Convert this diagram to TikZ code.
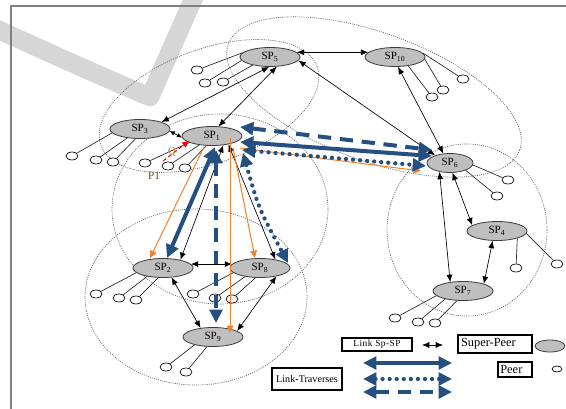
\documentclass[tikz,border=0pt]{standalone}
\usepackage{fontspec}
\setmainfont{Liberation Serif}
\usetikzlibrary{arrows.meta,calc,shapes.geometric}

\definecolor{spfill}{RGB}{191,191,191}
\definecolor{spline}{RGB}{60,60,60}
\definecolor{tblue}{RGB}{36,79,128}
\definecolor{torange}{RGB}{246,128,38}
\definecolor{wmark}{RGB}{214,214,214}
\definecolor{clgray}{RGB}{105,105,105}
\definecolor{framegray}{RGB}{128,128,128}
\definecolor{qcol}{RGB}{190,120,40}
\definecolor{pcol}{RGB}{110,80,40}

\begin{document}
\begin{tikzpicture}[x=0.75pt,y=-0.75pt,
  sp/.style={ellipse, draw=spline, line width=0.6pt, fill=spfill,
    minimum width=45pt, minimum height=14.25pt, inner sep=0pt,
    font=\fontsize{8.3}{9}\selectfont},
  peer/.style={ellipse, draw=black, line width=0.5pt, fill=white,
    minimum width=9pt, minimum height=6pt, inner sep=0pt},
  plink/.style={draw=black!85, line width=0.5pt},
  splink/.style={draw=black, line width=0.5pt,
    {Latex[length=5.5pt,width=4.5pt]}-{Latex[length=5.5pt,width=4.5pt]}},
  shortlink/.style={draw=black, line width=0.5pt,
    {Latex[length=3.8pt,width=3.6pt]}-{Latex[length=3.8pt,width=3.6pt]}},
  cluster/.style={draw=clgray, line width=0.5pt, dash pattern=on 0.8pt off 0.8pt},
  bhead/.style={{Triangle[length=10pt,width=9.5pt]}-{Triangle[length=10pt,width=9.5pt]}},
  trsolid/.style={draw=tblue, fill=none, line width=3pt, bhead},
  trdot/.style={draw=tblue, line width=3.2pt, line cap=round,
    dash pattern=on 0pt off 5.3pt, bhead},
  trdash/.style={draw=tblue, line width=3pt, dash pattern=on 10pt off 6.5pt, bhead},
  orarrow/.style={draw=torange, line width=0.75pt, -{Triangle[length=5.5pt,width=5pt]}},
  qarrow/.style={draw=red, line width=0.75pt, dash pattern=on 3pt off 2pt,
    -{Triangle[length=5pt,width=4.5pt]}},
  lbox/.style={draw=black, line width=0.8pt, rectangle, inner sep=1.5pt},
]
\useasboundingbox (0,0) rectangle (566,409);

% faint background stroke
\draw[wmark, line width=14pt, line join=round]
  (-12,25) .. controls (60,58) and (110,80) .. (150,97) -- (199,-14);

% page frame
\draw[framegray, line width=1.2pt] (11,412) -- (11,6) -- (570,6);

% clusters
\draw[cluster, rotate around={20:(209,106)}] (209,106) ellipse [x radius=115, y radius=57];
\draw[cluster, rotate around={-20:(374,97)}] (374,97) ellipse [x radius=155, y radius=64];
\draw[cluster] (220,209) ellipse [x radius=108, y radius=95];
\draw[cluster] (196,297) ellipse [x radius=111, y radius=88];
\draw[cluster] (467,230) ellipse [x radius=80, y radius=86];

% peers
\foreach \n/\x/\y in {p3a/72/156, p3b/96/160, p3c/113/162,
  p1a/145/163, p1b/168/166, p1c/185/168,
  p5a/197/70, p5b/205/83, p5c/223/82,
  p10a/463/79, p10b/443/90, p10c/432/97,
  p6a/508/180, p6b/497/196,
  p4a/516/268, p4b/557/264,
  p7a/395/318, p7b/418/322, p7c/435/323,
  p2a/96/294, p2b/119/298, p2c/136/300,
  p8a/193/294, p8b/215/298, p8c/232/299,
  p9a/166/367, p9b/186/372}
  \node[peer] (\n) at (\x,\y) {};

% super-peers
\node[sp] (sp5) at (270,57) {SP\textsubscript{5}};
\node[sp] (sp10) at (395,57) {SP\textsubscript{10}};
\node[sp] (sp3) at (140,129) {SP\textsubscript{3}};
\node[sp] (sp1) at (212,136) {SP\textsubscript{1}};
\node[sp, minimum width=34.5pt] (sp6) at (450,163) {SP\textsubscript{6}};
\node[sp] (sp4) at (497,231) {SP\textsubscript{4}};
\node[sp] (sp7) at (463,291) {SP\textsubscript{7}};
\node[sp] (sp2) at (163,268) {SP\textsubscript{2}};
\node[sp] (sp8) at (260,268) {SP\textsubscript{8}};
\node[sp] (sp9) at (213,337) {SP\textsubscript{9}};

% peer attachments
\foreach \p/\s in {p3a/sp3.188, p3b/sp3.215, p3c/sp3.245,
  p1a/sp1.196, p1b/sp1.215, p1c/sp1.240,
  p5a/sp5.171, p5b/sp5.187, p5c/sp5.205,
  p10a/sp10.8, p10b/sp10.356, p10c/sp10.326,
  p6a/sp6.355, p6b/sp6.335,
  p4a/sp4.340, p4b/sp4.355,
  p7a/sp7.190, p7b/sp7.204, p7c/sp7.238,
  p2a/sp2.190, p2b/sp2.208, p2c/sp2.243,
  p8a/sp8.190, p8b/sp8.210, p8c/sp8.245,
  p9a/sp9.203, p9b/sp9.238}
  \draw[plink] (\p) -- (\s);

% super-peer links
\draw[splink] (sp5.10) -- (sp10.170);
\draw[splink] (sp5.265) -- (sp3.18);
\draw[splink] (sp5.305) -- (sp1.56);
\draw[splink] (sp5.353) -- (sp6.153);
\draw[splink] (sp10.287) -- (sp6.125);
\draw[shortlink] (sp3.-4) -- (sp1.183);
\draw[splink] (sp1.321) -- (sp2.25);
\draw[splink] (sp1.333) -- (sp8.29);
\draw[splink] (sp2.8) -- (sp8.172);
\draw[splink] (sp2.312) -- (sp9.144);
\draw[splink] (sp8.333) -- (sp9.14);
\draw[splink] (sp6.220) -- (sp7.145);
\draw[splink] (sp6.284) -- (sp4.167);
\draw[splink] (sp4.246) -- (sp7.19);

% orange query paths
\draw[orarrow] ($(sp1)+(-8,11)$) -- ($(sp2)+(-13,-10)$);
\draw[orarrow] ($(sp1)+(18,2)$) -- ($(sp9)+(17,-4)$);
\draw[orarrow] ($(sp1)+(21,12)$) -- ($(sp8)+(-5,-10)$);
\draw[orarrow] ($(sp1)+(28,12)$) -- ($(sp6)+(-29,8)$);

% traversal links
\coordinate (a1) at ($(sp1)+(28,-9)$);
\coordinate (a2) at ($(sp6)+(-18,-13)$);
\coordinate (b1) at ($(sp1)+(28,6)$);
\coordinate (b2) at ($(sp6)+(-18,-7)$);
\coordinate (c1) at ($(sp1)+(30,14)$);
\coordinate (c2) at ($(sp6)+(-24,3)$);
\coordinate (d1) at ($(sp1)+(3,11)$);
\coordinate (d2) at ($(sp2)+(4,-10)$);
\coordinate (e1) at ($(sp1)+(4,14)$);
\coordinate (e2) at ($(sp9)+(3,-14)$);
\coordinate (f1) at ($(sp1)+(31,17)$);
\coordinate (f2) at ($(sp8)+(28,-5)$);
\draw[trdash] (a1) -- (a2);
\draw[trsolid] (b1) -- (b2);
\draw[trdot] (c1) -- (c2);
\draw[trsolid] (d1) -- (d2);
\draw[trdash] (e1) -- (e2);
\draw[trdot] (f1) .. controls ($(f1)!0.5!(f2)+(-7,0)$) .. (f2);

% query from peer P1
\coordinate (qs) at (163,161);
\coordinate (qe) at ($(sp1)+(-23,5)$);
\draw[qarrow] (qs) -- (qe);
\node[text=qcol, font=\fontsize{8}{9}\selectfont] (qlab) at (172,152) {Q};
\node[text=pcol, font=\fontsize{8.5}{9}\selectfont] (plab) at (154,176) {P1};

% legend
\node[lbox, minimum width=52.5pt, minimum height=9.75pt,
  font=\fontsize{7}{8}\selectfont\addfontfeature{LetterSpace=5}] (lsp) at (377,344.5) {Link Sp-SP};
\coordinate (lk1) at (422,345);
\coordinate (lk2) at (443,345);
\draw[splink] (lk1) -- (lk2);
\node[lbox, minimum width=55.5pt, minimum height=13.5pt, text width=51pt, align=left,
  font=\fontsize{9.3}{10}\selectfont] (lsup) at (495,344) {Super-Peer};
\node[sp, minimum width=22.5pt, minimum height=9pt] (lspn) at (550,346) {};
\node[lbox, minimum width=25.5pt, minimum height=11.25pt, text width=22pt, align=left,
  font=\fontsize{9.3}{10}\selectfont] (lpeer) at (515,369.5) {Peer};
\node[peer, minimum width=7.5pt, minimum height=4.5pt] (lpn) at (557,369) {};
\node[lbox, minimum width=52.5pt, minimum height=16.5pt,
  font=\fontsize{7.6}{9}\selectfont] (ltr) at (307,379) {Link-Traverses};
\coordinate (t1a) at (363,363);
\coordinate (t1b) at (452,363);
\coordinate (t2a) at (363,379);
\coordinate (t2b) at (452,379);
\coordinate (t3a) at (363,392);
\coordinate (t3b) at (452,392);
\draw[trsolid] (t1a) -- (t1b);
\draw[trdot] (t2a) -- (t2b);
\draw[trdash] (t3a) -- (t3b);
\end{tikzpicture}
\end{document}
